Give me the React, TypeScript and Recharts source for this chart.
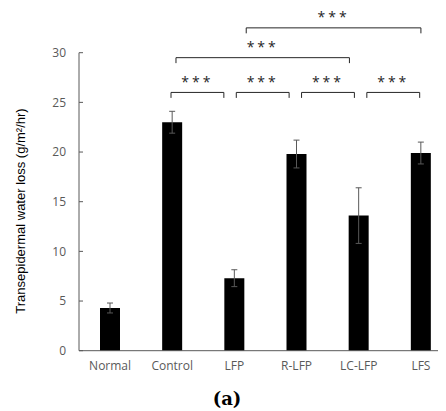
import {
  BarChart,
  Bar,
  XAxis,
  YAxis,
  ErrorBar,
  ReferenceLine,
  ReferenceDot,
} from "recharts";

const categories = ["Normal", "Control", "LFP", "R-LFP", "LC-LFP", "LFS"];
const means = [4.3, 23.0, 7.3, 19.8, 13.6, 19.9];
const errors = [0.5, 1.1, 0.85, 1.4, 2.8, 1.1];
const yTicks = [0, 5, 10, 15, 20, 25, 30];

// significance brackets: start/end in category units, height in data units
const bracketFrom = [0.98, 2.03, 3.08, 4.13, 1.06, 2.19];
const bracketTo = [1.83, 2.88, 3.93, 4.98, 3.85, 5.0];
const bracketY = [26, 26, 26, 26, 29.5, 32.5];
const bracketText = ["***", "***", "***", "***", "***", "***"];

const data = categories.map((name, i) => ({ x: i, name, value: means[i], err: errors[i] }));

const axisColor = "#595959";
const tickStyle = { fill: "#595959", fontSize: 12, fontFamily: "Open Sans, sans-serif" };

const YLabel = () => (
  <text
    x={12}
    y={203}
    transform="rotate(-90 12 203)"
    textAnchor="middle"
    dominantBaseline="central"
    fill="#000"
    fontSize={13}
    fontFamily="Liberation Sans, Arial, sans-serif"
  >
    Transepidermal water loss (g/m²/hr)
  </text>
);

export default function App() {
  return (
    <div style={{ position: "relative", width: 438, height: 403, overflow: "hidden" }}>
      <BarChart
        width={460}
        height={403}
        data={data}
        margin={{ top: 44.7, right: 16, bottom: 30.3, left: 0 }}
      >
        <XAxis
          type="number"
          dataKey="x"
          domain={[-0.5, 5.5]}
          ticks={[0, 1, 2, 3, 4, 5]}
          tickFormatter={(v: number) => categories[v]}
          tickLine={false}
          tickSize={0}
          tickMargin={11}
          stroke={axisColor}
          tick={tickStyle}
          interval={0}
        />
        <YAxis
          domain={[0, 30]}
          ticks={yTicks}
          width={71}
          tickSize={4}
          tickMargin={9}
          tickLine={{ stroke: axisColor, transform: "translate(4,0)" }}
          axisLine={{ stroke: axisColor }}
          tick={tickStyle}
          label={{ content: () => <YLabel /> }}
        />
        <Bar dataKey="value" fill="#000" barSize={20} isAnimationActive={false}>
          <ErrorBar dataKey="err" direction="y" width={3} stroke="#595959" strokeWidth={1} />
        </Bar>
        {bracketFrom.map((x1, i) => {
          const x2 = bracketTo[i];
          const y = bracketY[i];
          const drop = y - 0.55;
          return [
            <ReferenceLine
              key={`h${i}`}
              segment={[{ x: x1, y }, { x: x2, y }]}
              stroke="#262626"
              strokeWidth={1}
              ifOverflow="visible"
            />,
            <ReferenceLine
              key={`l${i}`}
              segment={[{ x: x1, y }, { x: x1, y: drop }]}
              stroke="#262626"
              strokeWidth={1}
              ifOverflow="visible"
            />,
            <ReferenceLine
              key={`r${i}`}
              segment={[{ x: x2, y }, { x: x2, y: drop }]}
              stroke="#262626"
              strokeWidth={1}
              ifOverflow="visible"
            />,
            <ReferenceDot
              key={`t${i}`}
              x={(x1 + x2) / 2}
              y={y + 1.05}
              r={0}
              stroke="none"
              fill="none"
              ifOverflow="visible"
              label={{
                value: bracketText[i],
                position: "center",
                fill: "#262626",
                fontSize: 14,
                fontFamily: "Open Sans, sans-serif",
                letterSpacing: 3,
              }}
            />,
          ];
        })}
      </BarChart>
      <div
        style={{
          position: "absolute",
          left: 0,
          width: 438,
          top: 379,
          textAlign: "center",
          fontFamily: "DejaVu Serif, serif",
          fontWeight: "bold",
          fontSize: 18,
          lineHeight: "24px",
        }}
      >
        (a)
      </div>
    </div>
  );
}
